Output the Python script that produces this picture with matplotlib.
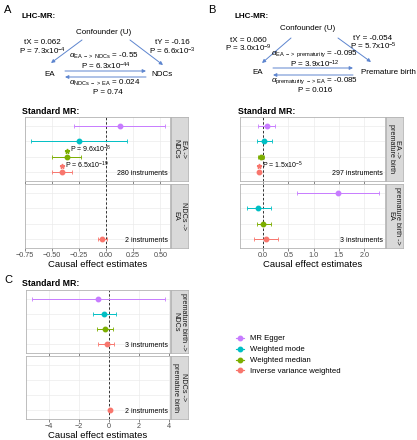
import matplotlib.pyplot as plt
from matplotlib.lines import Line2D
import numpy as np

plt.rcParams['font.family'] = ['Liberation Sans', 'DejaVu Sans']
plt.rcParams['mathtext.fontset'] = 'custom'
plt.rcParams['mathtext.rm'] = 'Liberation Sans'
plt.rcParams['mathtext.it'] = 'Liberation Sans:italic'
plt.rcParams['mathtext.bf'] = 'Liberation Sans:bold'

# order of rows, top to bottom
methods = ['MR Egger', 'Weighted mode', 'Weighted median', 'Inverse variance weighted']
colors = ['#C77CFF', '#00BFC4', '#7CAE00', '#F8766D']
rows = [4, 3, 2, 1]
nan = np.nan

# A: EA -> NDCs / NDCs -> EA
a1_est = [0.13, -0.25, -0.36, -0.41]
a1_lo = [-0.30, -0.69, -0.50, -0.50]
a1_hi = [0.54, 0.19, -0.23, -0.32]
a1_p = {2: '9.6x10$^{-8}$', 3: '6.5x10$^{-19}$'}
a2_est = [nan, nan, nan, -0.04]
a2_lo = [nan, nan, nan, -0.08]
a2_hi = [nan, nan, nan, 0.01]

# B: EA -> premature birth / premature birth -> EA
b1_est = [0.08, 0.02, -0.04, -0.08]
b1_lo = [-0.10, -0.12, -0.09, -0.10]
b1_hi = [0.24, 0.17, 0.01, -0.06]
b1_p = {3: '1.5x10$^{-5}$'}
b2_est = [1.48, -0.10, 0.00, 0.06]
b2_lo = [0.67, -0.32, -0.12, -0.18]
b2_hi = [2.30, 0.16, 0.15, 0.30]

# C: premature birth -> NDCs / NDCs -> premature birth
c1_est = [-0.70, -0.30, -0.25, -0.15]
c1_lo = [-5.10, -1.05, -0.80, -0.70]
c1_hi = [3.70, 0.45, 0.30, 0.35]
c2_est = [nan, nan, nan, 0.05]
c2_lo = [nan, nan, nan, 0.00]
c2_hi = [nan, nan, nan, 0.10]

W, H = 417, 440
fig = plt.figure(figsize=(W / 100, H / 100), dpi=100)


def box(x0, y0, x1, y1):
    return [x0 / W, 1 - y1 / H, (x1 - x0) / W, (y1 - y0) / H]


def facet(pos, est, lo, hi, xlim, ticks, ticklabels, strip, n_inst, show_x, pvals={}):
    x0, y0, x1, y1 = pos
    ax = fig.add_axes(box(x0, y0, x1, y1))
    ax.set_xlim(xlim)
    ax.set_ylim(0.4, 4.6)
    ax.set_xticks(ticks)
    ax.set_yticks(rows)
    ax.grid(True, color='#EBEBEB', lw=0.5)
    ax.set_axisbelow(True)
    for s in ax.spines.values():
        s.set_color('#B3B3B3')
        s.set_linewidth(0.6)
    ax.tick_params(length=2, width=0.5, color='#555555', labelsize=5.2,
                   labelcolor='#4D4D4D', pad=1)
    ax.tick_params(axis='y', length=0, labelleft=False)
    if show_x:
        ax.set_xticklabels(ticklabels)
        ax.set_xlabel('Causal effect estimates', fontsize=6.8, labelpad=0.5)
    else:
        ax.tick_params(axis='x', labelbottom=False)
    ax.axvline(0, color='#333333', lw=0.7, ls=(0, (2.5, 2)))
    for i in range(4):
        if np.isnan(est[i]):
            continue
        ax.errorbar(est[i], rows[i], xerr=[[est[i] - lo[i]], [hi[i] - est[i]]],
                    fmt='o', color=colors[i], ms=3.2, elinewidth=0.7,
                    capsize=1.2, capthick=0.6)
        if i in pvals:
            ax.plot(est[i], rows[i] + 0.4, marker='*', ms=3.5, color=colors[i], lw=0)
            ax.annotate('P = ' + pvals[i], (est[i], rows[i] + 0.4), xytext=(2, 0.5),
                        textcoords='offset points', va='center', fontsize=5)
    ax.text(0.985, 0.06, n_inst, transform=ax.transAxes, ha='right', va='bottom',
            fontsize=5)
    st = fig.add_axes(box(x1 + 1, y0, x1 + 18, y1))
    st.set_facecolor('#D9D9D9')
    st.set_xticks([])
    st.set_yticks([])
    for s in st.spines.values():
        s.set_color('#B3B3B3')
        s.set_linewidth(0.6)
    st.text(0.5, 0.5, strip, rotation=-90, ha='center', va='center',
            fontsize=5.2, color='#1A1A1A', transform=st.transAxes, linespacing=1.0)
    return ax


a_ticks = [-0.75, -0.5, -0.25, 0, 0.25, 0.5]
a_lab = ['\u22120.75', '\u22120.50', '\u22120.25', '0.00', '0.25', '0.50']
facet((25, 117, 170, 181), a1_est, a1_lo, a1_hi, (-0.75, 0.59), a_ticks, a_lab,
      'EA ->\nNDCs', '280 instruments', False, a1_p)
facet((25, 184, 170, 248), a2_est, a2_lo, a2_hi, (-0.75, 0.59), a_ticks, a_lab,
      'NDCs ->\nEA', '2 instruments', True)

b_ticks = [0, 0.5, 1, 1.5, 2]
b_lab = ['0.0', '0.5', '1.0', '1.5', '2.0']
facet((240, 117, 385, 181), b1_est, b1_lo, b1_hi, (-0.455, 2.41), b_ticks, b_lab,
      'EA ->\npremature birth', '297 instruments', False, b1_p)
facet((240, 184, 385, 248), b2_est, b2_lo, b2_hi, (-0.455, 2.41), b_ticks, b_lab,
      'premature birth ->\nEA', '3 instruments', True)

c_ticks = [-4, -2, 0, 2, 4]
c_lab = ['\u22124', '\u22122', '0', '2', '4']
facet((26, 290, 170, 353), c1_est, c1_lo, c1_hi, (-5.5, 4.05), c_ticks, c_lab,
      'premature birth ->\nNDCs', '3 instruments', False)
facet((26, 356, 170, 419), c2_est, c2_lo, c2_hi, (-5.5, 4.05), c_ticks, c_lab,
      'NDCs ->\npremature birth', '2 instruments', True)

# overlay in pixel coordinates for diagrams and labels
ov = fig.add_axes([0, 0, 1, 1], zorder=-1)
ov.set_xlim(0, W)
ov.set_ylim(H, 0)
ov.axis('off')

for lab, x, y in [('A', 4, 10), ('B', 208, 10), ('C', 4, 280)]:
    ov.text(x, y, lab, fontsize=8, va='center', ha='left')
for x, y in [(22, 17), (235, 17)]:
    ov.text(x, y, 'LHC-MR:', fontsize=5.8, fontweight='bold', va='center')
for x, y in [(22, 111), (238, 111), (22, 283)]:
    ov.text(x, y, 'Standard MR:', fontsize=6.3, fontweight='bold', va='center')

arrow = dict(arrowstyle='-|>', color='#5D85CF', lw=0.7, mutation_scale=5,
             shrinkA=0, shrinkB=0)
fs = 5.8


def arr(x0, y0, x1, y1):
    ov.annotate('', xy=(x1, y1), xytext=(x0, y0), arrowprops=arrow)


# diagram A
ov.text(104, 32, 'Confounder (U)', fontsize=fs, ha='center', va='center')
arr(82, 40, 51, 63)
arr(130, 40, 163, 65)
ov.text(42, 43, 'tX = 0.062', fontsize=fs, ha='center', va='center')
ov.text(42, 51.5, 'P = 7.3x10$^{-4}$', fontsize=fs, ha='center', va='center')
ov.text(172, 43, 'tY = -0.16', fontsize=fs, ha='center', va='center')
ov.text(172, 51.5, 'P = 6.6x10$^{-3}$', fontsize=fs, ha='center', va='center')
ov.text(104, 56, r'$\alpha_{\mathrm{EA\ ->\ NDCs}}$ = -0.55', fontsize=fs, ha='center', va='center')
ov.text(106, 66.5, 'P = 6.3x10$^{-44}$', fontsize=fs, ha='center', va='center')
ov.text(50, 75, 'EA', fontsize=fs, ha='center', va='center')
ov.text(162, 75, 'NDCs', fontsize=fs, ha='center', va='center')
arr(65, 71, 146, 71)
arr(146, 77, 65, 77)
ov.text(105, 83, r'$\alpha_{\mathrm{NDCs\ ->\ EA}}$ = 0.024', fontsize=fs, ha='center', va='center')
ov.text(108, 92, 'P = 0.74', fontsize=fs, ha='center', va='center')

# diagram B
ov.text(308, 29, 'Confounder (U)', fontsize=fs, ha='center', va='center')
arr(291, 38, 262, 63)
arr(338, 38, 371, 62)
ov.text(248, 40, 'tX = 0.060', fontsize=fs, ha='center', va='center')
ov.text(248, 48.5, 'P = 3.0x10$^{-9}$', fontsize=fs, ha='center', va='center')
ov.text(373, 38, 'tY = -0.054', fontsize=fs, ha='center', va='center')
ov.text(373, 46.5, 'P = 5.7x10$^{-5}$', fontsize=fs, ha='center', va='center')
ov.text(315, 54, r'$\alpha_{\mathrm{EA\ ->\ prematurity}}$ = -0.095', fontsize=fs, ha='center', va='center')
ov.text(315, 64, 'P = 3.9x10$^{-12}$', fontsize=fs, ha='center', va='center')
ov.text(258, 72, 'EA', fontsize=fs, ha='center', va='center')
ov.text(388, 72, 'Premature birth', fontsize=fs, ha='center', va='center')
arr(273, 68, 353, 68)
arr(353, 75, 273, 75)
ov.text(315, 81, r'$\alpha_{\mathrm{prematurity\ ->\ EA}}$ = -0.085', fontsize=fs, ha='center', va='center')
ov.text(315, 90, 'P = 0.016', fontsize=fs, ha='center', va='center')

handles = [Line2D([], [], color=c, marker='o', ms=3.2, lw=0.8) for c in colors]
fig.legend(handles, methods, loc='upper left', bbox_to_anchor=(232 / W, 1 - 331 / H),
           frameon=False, fontsize=5.6, handlelength=1.0, handletextpad=0.8,
           labelspacing=0.45, borderpad=0)

fig.savefig('out.png', dpi=100)
